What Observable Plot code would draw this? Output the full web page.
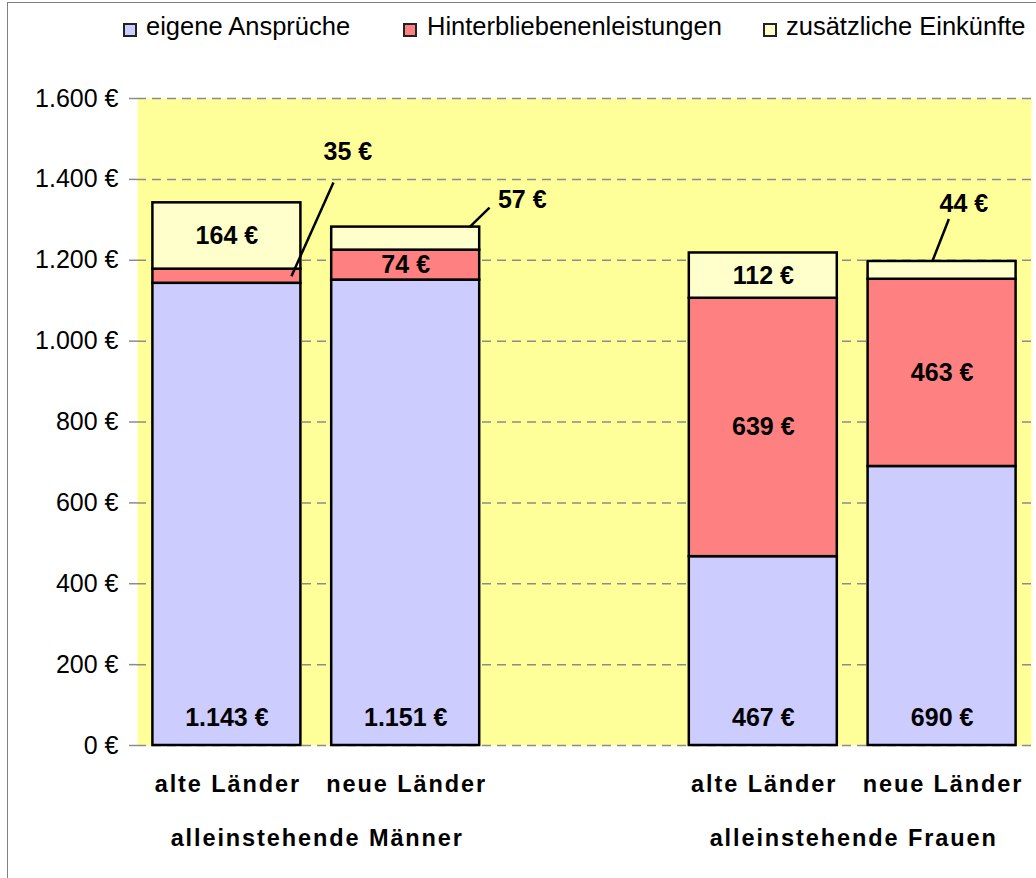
<!DOCTYPE html>
<html>
<head>
<meta charset="utf-8">
<script src="https://cdn.jsdelivr.net/npm/d3@7"></script>
<script src="https://cdn.jsdelivr.net/npm/@observablehq/plot@0.6"></script>
<style>
  body { margin: 0; background: #fff; font-family: "Liberation Sans", Arial, sans-serif; }
  #wrap { position: relative; width: 1036px; height: 878px; overflow: hidden; background: #fff; }
  #frame { position: absolute; left: 7px; top: 2px; width: 2000px; height: 2000px; border: 1.5px solid #808080; box-sizing: border-box; pointer-events: none; }
  #legend { position: relative; height: 55px; }
  .sw { position: absolute; top: 23px; width: 14px; height: 14px; border: 2px solid #222; box-sizing: border-box; }
  .lt { position: absolute; top: 14px; font-size: 25.5px; line-height: 25.5px; color: #000; white-space: nowrap; }
</style>
</head>
<body>
<div id="wrap">
  <div id="legend"></div>
  <div id="chart"></div>
  <div id="frame"></div>
</div>
<script>
// ---- data ----
const groups = ["alleinstehende Männer", "alleinstehende Frauen"];
const regions = ["alte Länder", "neue Länder"];
const series = ["eigene Ansprüche", "Hinterbliebenenleistungen", "zusätzliche Einkünfte"];
const seriesColors = ["#CCCCFF", "#FF8080", "#FFFFCC"];
const eigeneAnsprueche = [1143, 1151, 467, 690];
const hinterbliebenenleistungen = [35, 74, 639, 463];
const zusaetzlicheEinkuenfte = [164, 57, 112, 44];
const yTicks = [0, 200, 400, 600, 800, 1000, 1200, 1400, 1600];

// ---- derived ----
const values = [eigeneAnsprueche, hinterbliebenenleistungen, zusaetzlicheEinkuenfte];
const fmtDE = d3.formatLocale({decimal: ",", thousands: ".", grouping: [3], currency: ["", ""]}).format(",d");
const euro = v => fmtDE(v) + " €";

const perGroup = regions.length;
const bars = [];
const cats = [];
eigeneAnsprueche.forEach((_, j) => {
  const g = Math.floor(j / perGroup), k = j % perGroup;
  const slot = g * (perGroup + 1) + k; // empty slot between groups
  cats.push({slot, label: regions[k], g});
  let base = 0;
  values.forEach((arr, s) => {
    bars.push({j, slot, s, series: series[s], value: arr[j], y1: base, y2: base + arr[j]});
    base += arr[j];
  });
});
const groupRows = groups.map((name, g) => ({name, x: d3.mean(cats.filter(c => c.g === g), c => c.slot)}));

// callout geometry for thin segments (offsets in slot units / euro units)
const callouts = {
  "0-1": {anchor: "mid", sx: 0.361, ex: 0.596, ey: 232, lx: 0.677, ly: 306},
  "1-2": {anchor: "top", sx: 0.357, ex: 0.469, ey: 48, lx: 0.652, ly: 66},
  "3-2": {anchor: "top", sx: -0.055, ex: 0.038, ey: 105, lx: 0.122, ly: 143}
};
const inside = [], bottomLabels = [], links = [], outside = [];
for (const b of bars) {
  const key = b.j + "-" + b.s;
  if (b.s === 0) bottomLabels.push({x: b.slot, y: 0, text: euro(b.value)});
  else if (callouts[key]) {
    const c = callouts[key];
    const a = c.anchor === "mid" ? (b.y1 + b.y2) / 2 : b.y2;
    links.push({x1: b.slot + c.sx, y1: a, x2: b.slot + c.ex, y2: a + c.ey});
    outside.push({x: b.slot + c.lx, y: a + c.ly, text: euro(b.value)});
  } else inside.push({x: b.slot, y: (b.y1 + b.y2) / 2, text: euro(b.value)});
}

// ---- legend ----
const legend = document.getElementById("legend");
const legendPos = [[123, 146], [403, 427], [763, 786]];
series.forEach((name, i) => {
  const sw = document.createElement("div");
  sw.className = "sw"; sw.style.left = legendPos[i][0] + "px"; sw.style.background = seriesColors[i];
  const t = document.createElement("div");
  t.className = "lt"; t.style.left = legendPos[i][1] + "px"; t.textContent = name;
  legend.append(sw, t);
});

// ---- chart ----
const chart = Plot.plot({
  width: 1036,
  height: 823,
  marginTop: 43,
  marginBottom: 133,
  marginLeft: 137,
  marginRight: 5,
  style: {fontFamily: "'Liberation Sans', Arial, sans-serif", fontSize: "25px", background: "transparent", overflow: "visible", color: "#000"},
  x: {domain: [-0.5, 4.5], axis: null},
  y: {domain: [0, 1600], axis: null},
  color: {domain: series, range: seriesColors},
  marks: [
    Plot.frame({fill: "#FFFF99", stroke: null}),
    Plot.gridY(yTicks, {stroke: "#8c8c8c", strokeOpacity: 1, strokeWidth: 1.5, strokeDasharray: "9,6"}),
    Plot.axisY({ticks: yTicks, tickFormat: euro, tickSize: 8, tickPadding: 11, stroke: "#8c8c8c", strokeWidth: 1.5, fontSize: 25}),
    Plot.rectY(bars, {x1: d => d.slot - 0.5, x2: d => d.slot + 0.5, y1: "y1", y2: "y2", fill: "series", stroke: "#000", strokeWidth: 2.5, insetLeft: 15.4, insetRight: 15.4}),
    Plot.link(links, {x1: "x1", y1: "y1", x2: "x2", y2: "y2", stroke: "#000", strokeWidth: 2.5}),
    Plot.text(bottomLabels, {x: "x", y: "y", text: "text", dy: -28, lineAnchor: "middle", fontWeight: "bold", fontSize: 25}),
    Plot.text(inside, {x: "x", y: "y", text: "text", lineAnchor: "middle", fontWeight: "bold", fontSize: 25}),
    Plot.text(outside, {x: "x", y: "y", text: "text", lineAnchor: "middle", fontWeight: "bold", fontSize: 25}),
    Plot.text(cats, {x: "slot", text: "label", frameAnchor: "bottom", dy: 39, lineAnchor: "middle", fontWeight: "bold", fontSize: 23.5}),
    Plot.text(groupRows, {x: "x", text: "name", frameAnchor: "bottom", dy: 93, lineAnchor: "middle", fontWeight: "bold", fontSize: 23.5})
  ]
});
document.getElementById("chart").append(chart);

// expanded letter spacing on the category and group labels, as in the original
const spaced = new Set([...regions, ...groups]);
chart.querySelectorAll("text").forEach(t => {
  if (spaced.has(t.textContent)) {
    t.style.letterSpacing = "1.9px";
    t.setAttribute("dx", "0.95");
  }
});
</script>
</body>
</html>
